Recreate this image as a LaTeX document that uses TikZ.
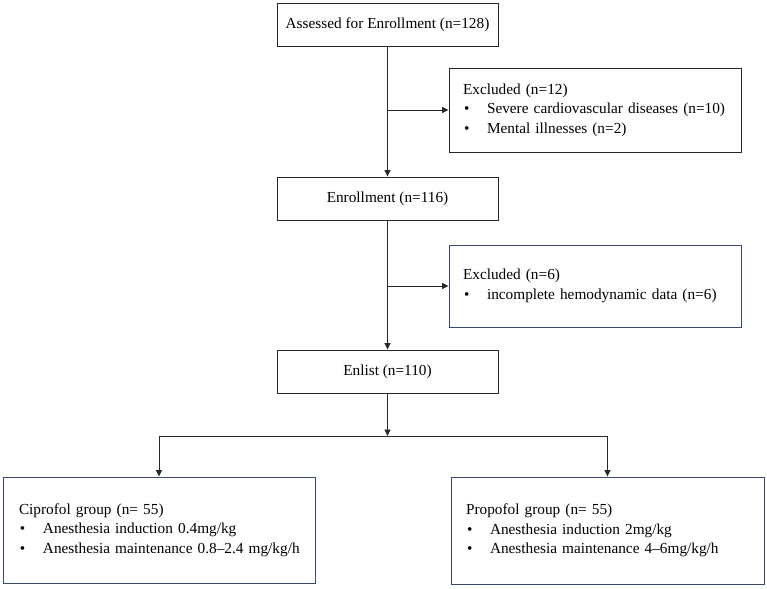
\documentclass[tikz,border=0pt]{standalone}
\usepackage{fontspec}
\setmainfont{Liberation Serif}
\usetikzlibrary{arrows.meta,positioning,calc}
\definecolor{vonal}{RGB}{40,40,40}
\definecolor{kekvonal}{RGB}{58,72,110}
\newcommand{\pontsor}[1]{\makebox[24pt][l]{\hspace{1pt}\textbullet}\mbox{#1}}
\tikzset{
  betu/.style={font=\fontsize{15.3}{19.5}\selectfont},
  fodoboz/.style={draw=vonal,line width=0.9pt,minimum width=221pt,minimum height=43pt,inner sep=0pt,betu},
  kizart/.style={draw=vonal,line width=0.9pt,inner xsep=14pt,inner ysep=0pt,text width=264pt,align=left,betu},
  csoport/.style={draw=kekvonal,line width=0.9pt,inner xsep=16pt,inner ysep=0pt,text width=280pt,align=left,
                  minimum height=106pt,betu},
  nyil/.style={draw=vonal,line width=0.9pt,-{Triangle[length=6.5pt,width=6pt]}},
  szal/.style={draw=vonal,line width=0.9pt},
}
\begin{document}
\begin{tikzpicture}[x=1pt,y=-1pt]
  \useasboundingbox (0,0) rectangle (767,588);
  % fo lepesek
  \node[fodoboz] (felmeres) at (387.5,24.5) {Assessed for Enrollment (n=128)};
  \node[fodoboz] (bevon) at (387.5,198.5) {Enrollment (n=116)};
  \node[fodoboz] (lista) at (387.5,371.5) {Enlist (n=110)};
  % kizart betegek
  \node[kizart,minimum height=84pt] (kizart1) at (595,110)
    {Excluded (n=12)\\
     \pontsor{Severe cardiovascular diseases (n=10)}\\
     \pontsor{Mental illnesses (n=2)}};
  \node[kizart,draw=kekvonal,minimum height=82pt] (kizart2) at (595,286)
    {Excluded (n=6)\\
     \pontsor{incomplete hemodynamic data (n=6)}};
  % csoportok
  \node[csoport] (cipro) at (159,530)
    {Ciprofol group (n= 55)\\
     \pontsor{Anesthesia induction 0.4mg/kg}\\
     \pontsor{Anesthesia maintenance 0.8--2.4 mg/kg/h}};
  \node[csoport,inner xsep=15pt,text width=283pt,minimum height=107pt] (propo) at (607.5,530.5)
    {Propofol group (n= 55)\\
     \pontsor{Anesthesia induction 2mg/kg}\\
     \pontsor{Anesthesia maintenance 4--6mg/kg/h}};
  % nyilak
  \draw[nyil] (felmeres) -- (bevon);
  \coordinate (ag1) at (felmeres.south |- kizart1.west);
  \draw[nyil] (ag1) -- (kizart1.west);
  \draw[nyil] (bevon) -- (lista);
  \coordinate (ag2) at (bevon.south |- kizart2.west);
  \draw[nyil] (ag2) -- (kizart2.west);
  \coordinate (elagazas) at (387.5,436);
  \draw[nyil] (lista) -- (elagazas);
  \draw[szal] (elagazas -| cipro) -- (elagazas -| propo);
  \draw[nyil] (elagazas -| cipro) -- (cipro);
  \draw[nyil] (elagazas -| propo) -- (propo);
\end{tikzpicture}
\end{document}
